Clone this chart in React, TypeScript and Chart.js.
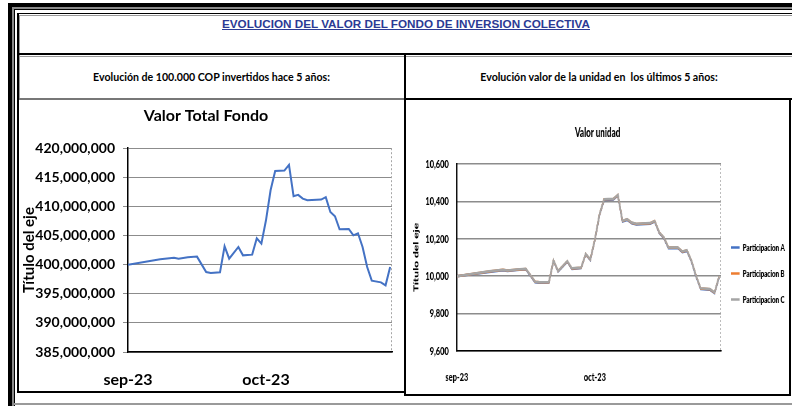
import React, { useEffect, useRef } from 'react';
import { Chart, registerables } from 'chart.js';

Chart.register(...registerables);

// ---- data ----
const days = [0, 7, 10, 11, 13, 15, 17, 18, 20, 21, 22, 24, 25, 27, 28, 29, 30, 31, 32, 34, 35, 36, 37, 38, 39, 42, 43, 44, 45, 46, 48, 49, 50, 51, 52, 53, 55, 56, 57];
const fundValues = [400000000, 400920000, 401200000, 401030000, 401260000, 401380000, 398740000, 398570000, 398680000, 403150000, 401030000, 403040000, 401600000, 401720000, 404530000, 403610000, 407620000, 412780000, 416100000, 416160000, 417130000, 411750000, 411980000, 411350000, 411060000, 411170000, 411580000, 409050000, 408310000, 406070000, 406130000, 405040000, 405390000, 403040000, 399600000, 397250000, 396960000, 396450000, 399600000];
const unitA = [10000, 10023, 10032, 10028, 10033, 10037, 9968, 9965, 9966, 10082, 10025, 10078, 10039, 10043, 10116, 10087, 10194, 10328, 10408, 10410, 10431, 10292, 10301, 10283, 10276, 10280, 10292, 10230, 10203, 10150, 10151, 10128, 10135, 10078, 9998, 9931, 9927, 9909, 9995];
const unitB = [10000, 10025, 10034, 10030, 10035, 10039, 9970, 9967, 9968, 10084, 10027, 10080, 10041, 10045, 10118, 10089, 10196, 10330, 10411, 10413, 10434, 10295, 10304, 10286, 10279, 10283, 10295, 10233, 10206, 10153, 10154, 10131, 10138, 10081, 10001, 9934, 9930, 9912, 9998];
const unitC = [10000, 10026, 10035, 10031, 10036, 10040, 9971, 9968, 9969, 10085, 10028, 10081, 10042, 10046, 10119, 10090, 10197, 10331, 10412, 10414, 10435, 10296, 10305, 10287, 10280, 10284, 10296, 10234, 10207, 10154, 10155, 10132, 10139, 10082, 10002, 9935, 9931, 9913, 9999];
const seriesNames = ['Participacion A', 'Participacion B', 'Participacion C'];
const monthTickDays = [0, 30];
const monthTickLabels = ['sep-23', 'oct-23'];
const fundTicks = [385000000, 390000000, 395000000, 400000000, 405000000, 410000000, 415000000, 420000000];
const unitTicks = [9600, 9800, 10000, 10200, 10400, 10600];

const FONT = 'Lato, "Open Sans", sans-serif';
const toPoints = (ys: number[]) => days.map((d, i) => ({ x: d, y: ys[i] }));
const fmt = (v: number) => Math.round(v).toString().replace(/\B(?=(\d{3})+(?!\d))/g, ',');

// dotted right edge of the plot area (Excel-style plot frame)
const plotFrame = {
  id: 'plotFrame',
  beforeDatasetsDraw(chart: any) {
    const { ctx, chartArea } = chart;
    ctx.save();
    ctx.strokeStyle = '#a6a6a6';
    ctx.lineWidth = 1;
    ctx.setLineDash([2, 2]);
    ctx.beginPath();
    ctx.moveTo(chartArea.right - 0.5, chartArea.top);
    ctx.lineTo(chartArea.right - 0.5, chartArea.bottom);
    ctx.stroke();
    ctx.restore();
  },
};

function xAxis(size: number, pad: number, height: number, weight: any) {
  return {
    type: 'linear',
    min: 0,
    max: 57.4,
    afterBuildTicks: (s: any) => { s.ticks = monthTickDays.map((v) => ({ value: v })); },
    afterFit: (s: any) => { s.height = height; },
    ticks: {
      autoSkip: false,
      maxRotation: 0,
      padding: pad,
      color: '#000',
      font: { family: FONT, size: size, weight: weight },
      callback: (v: number) => monthTickLabels[monthTickDays.indexOf(v)] ?? '',
    },
    grid: { drawOnChartArea: false, drawTicks: false },
    border: { color: '#000', width: 1.5 },
  };
}

function makeFundChart(): any {
  return {
    type: 'line',
    data: {
      datasets: [{
        data: toPoints(fundValues),
        borderColor: '#4472C4',
        backgroundColor: '#4472C4',
        borderWidth: 2,
        pointRadius: 0,
        tension: 0,
      }],
    },
    plugins: [plotFrame],
    options: {
      animation: false,
      responsive: false,
      devicePixelRatio: 1,
      layout: { padding: { left: 0, right: 11, top: 0, bottom: 0 } },
      plugins: {
        legend: { display: false },
        tooltip: { enabled: false },
        title: {
          display: true,
          text: 'Valor Total Fondo',
          color: '#000',
          font: { family: FONT, size: 16, weight: 'bold' },
          padding: { top: 5, bottom: 23 },
        },
      },
      scales: {
        x: xAxis(16, 18, 39, 'bold'),
        y: {
          min: fundTicks[0],
          max: fundTicks[fundTicks.length - 1],
          afterBuildTicks: (s: any) => { s.ticks = fundTicks.map((v) => ({ value: v })); },
          afterFit: (s: any) => { s.width = 108; },
          ticks: {
            padding: 8,
            color: '#000',
            font: { family: FONT, size: 14, weight: 'bold' },
            callback: (v: number) => fmt(v),
          },
          grid: { color: '#8c8c8c', lineWidth: 1, tickLength: 5 },
          border: { color: '#000', width: 1.5 },
          title: {
            display: true,
            text: 'Título del eje',
            color: '#000',
            font: { family: FONT, size: 15, weight: 'bold' },
            padding: { top: 0, bottom: 0 },
          },
        },
      },
    },
  };
}

function makeUnitChart(): any {
  const colors = ['#4472C4', '#ED7D31', '#A5A5A5'];
  const series = [unitA, unitB, unitC];
  return {
    type: 'line',
    data: {
      datasets: series.map((s, i) => ({
        label: seriesNames[i],
        data: toPoints(s),
        borderColor: colors[i],
        backgroundColor: colors[i],
        borderWidth: 2.5,
        pointRadius: 0,
        tension: 0,
        order: 3 - i,
      })),
    },
    plugins: [plotFrame],
    options: {
      animation: false,
      responsive: false,
      devicePixelRatio: 1,
      layout: { padding: { left: 0, right: 0, top: 0, bottom: 0 } },
      plugins: {
        tooltip: { enabled: false },
        title: {
          display: true,
          text: 'Valor unidad',
          color: '#000',
          font: { family: FONT, size: 13, weight: 900 },
          padding: { top: 23, bottom: 23.4 },
        },
        legend: {
          position: 'right',
          maxWidth: 110,
          title: { display: true, text: ' ', font: { size: 10 }, padding: { top: 39, bottom: 0 } },
          labels: {
            color: '#000',
            font: { family: FONT, size: 10, weight: 900 },
            usePointStyle: true,
            pointStyle: 'line',
            pointStyleWidth: 14,
            padding: 16,
            sort: (a: any, b: any) => a.datasetIndex - b.datasetIndex,
          },
        },
      },
      scales: {
        x: xAxis(12, 19, 43, 900),
        y: {
          min: unitTicks[0],
          max: unitTicks[unitTicks.length - 1],
          afterBuildTicks: (s: any) => { s.ticks = unitTicks.map((v) => ({ value: v })); },
          afterFit: (s: any) => { s.width = 82; },
          ticks: {
            padding: 13,
            color: '#000',
            font: { family: FONT, size: 12, weight: 900 },
            callback: (v: number) => fmt(v),
          },
          grid: { color: '#8c8c8c', lineWidth: 1.5, drawTicks: false },
          border: { color: '#000', width: 2 },
          title: {
            display: true,
            text: 'Título del eje',
            color: '#000',
            font: { family: FONT, size: 12, weight: 900 },
            padding: { top: 9, bottom: 0 },
          },
        },
      },
    },
  };
}

function ChartCanvas({ make, left, top, width, height, extra }: any) {
  const ref = useRef<HTMLCanvasElement>(null);
  useEffect(() => {
    const chart = new Chart(ref.current as HTMLCanvasElement, make());
    return () => chart.destroy();
  }, []);
  return (
    <canvas
      ref={ref}
      width={width}
      height={height}
      style={{ position: 'absolute', left, top, width, height, display: 'block', ...(extra || {}) }}
    />
  );
}

function Rule({ l, t, w, h, c }: { l: number; t: number; w: number; h: number; c: string }) {
  return <div style={{ position: 'absolute', left: l, top: t, width: w, height: h, background: c }} />;
}

export default function App() {
  return (
    <div style={{ position: 'absolute', left: 0, top: 0, width: 792, height: 406, background: '#fff', overflow: 'hidden' }}>
      {/* outer frame */}
      <Rule l={8} t={3} w={4} h={403} c="#000" />
      <Rule l={12} t={7} w={2} h={399} c="#8a8a8a" />
      <Rule l={14} t={9} w={1} h={397} c="#000" />
      <Rule l={8} t={3} w={784} h={4} c="#000" />
      <Rule l={12} t={7} w={780} h={2} c="#8a8a8a" />
      <Rule l={14} t={9} w={778} h={1} c="#000" />
      {/* inner table */}
      <Rule l={17} t={13} w={775} h={1} c="#000" />
      <Rule l={19} t={15} w={773} h={1} c="#9a9a9a" />
      <Rule l={17} t={13} w={1.5} h={379} c="#000" />
      <Rule l={19} t={15} w={1} h={85} c="#9a9a9a" />
      <Rule l={17} t={53} w={775} h={2} c="#000" />
      <Rule l={19} t={56} w={385} h={1} c="#9a9a9a" />
      <Rule l={19} t={98} w={385} h={2} c="#777" />
      <Rule l={17} t={391} w={387} h={1.5} c="#000" />
      <Rule l={14} t={403} w={778} h={2} c="#9a9a9a" />
      {/* right cell box */}
      <Rule l={404} t={54} w={2} h={342} c="#000" />
      <Rule l={406} t={56} w={386} h={1} c="#9a9a9a" />
      <Rule l={404} t={98} w={388} h={2} c="#000" />
      <Rule l={789} t={98} w={2} h={298} c="#000" />
      <Rule l={404} t={394} w={387} h={2} c="#000" />

      <div style={{ position: 'absolute', left: 17, top: 17, width: 778, height: 14, lineHeight: '14px', textAlign: 'center', fontFamily: '"Liberation Sans", Arial, sans-serif', fontWeight: 'bold', fontSize: 11.7, color: '#2B3A94', textDecoration: 'underline' }}>
        EVOLUCION DEL VALOR DEL FONDO DE INVERSION COLECTIVA
      </div>
      <div style={{ position: 'absolute', left: 19, top: 70, width: 385, height: 15, lineHeight: '15px', textAlign: 'center', fontFamily: FONT, fontWeight: 'bold', fontSize: 10.6, color: '#000' }}>
        Evolución de 100.000 COP invertidos hace 5 años:
      </div>
      <div style={{ position: 'absolute', left: 405, top: 70, width: 388, height: 15, lineHeight: '15px', textAlign: 'center', fontFamily: FONT, fontWeight: 'bold', fontSize: 10.6, color: '#000', whiteSpace: 'pre' }}>
        {'Evolución valor de la unidad en  los últimos 5 años:'}
      </div>

      <ChartCanvas make={makeFundChart} left={20} top={101} width={383} height={290} />
      <ChartCanvas make={makeUnitChart} left={406} top={102} width={618} height={292} extra={{ transform: 'scaleX(0.62)', transformOrigin: '0 0' }} />
    </div>
  );
}
